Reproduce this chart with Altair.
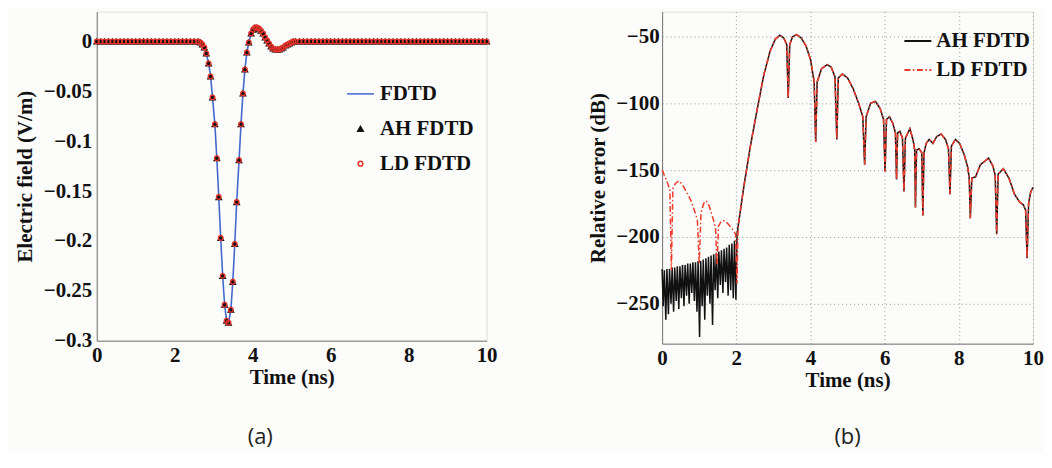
import altair as alt
import pandas as pd

FONT = "Liberation Serif"

# ---------------- Panel (a): electric field ----------------
a_time = [0.0, 0.1, 0.2, 0.3, 0.4, 0.5, 0.6, 0.7, 0.8, 0.9, 1.0, 1.1, 1.2, 1.3,
          1.4, 1.5, 1.6, 1.7, 1.8, 1.9, 2.0, 2.1, 2.2, 2.3, 2.4, 2.5,
          2.60, 2.66, 2.71, 2.76, 2.81, 2.87, 2.92, 2.97, 3.03, 3.08, 3.13, 3.18,
          3.23, 3.28, 3.33, 3.38, 3.44, 3.49, 3.54, 3.59, 3.65, 3.70, 3.75, 3.80,
          3.85, 3.90, 3.96, 4.01, 4.06, 4.11, 4.16, 4.21, 4.27, 4.32, 4.37, 4.42,
          4.47, 4.52, 4.58, 4.63, 4.68, 4.73, 4.78, 4.84, 4.89, 4.94, 4.99, 5.04,
          5.1, 5.2, 5.3, 5.4, 5.5, 5.6, 5.7, 5.8, 5.9, 6.0, 6.1, 6.2, 6.3, 6.4,
          6.5, 6.6, 6.7, 6.8, 6.9, 7.0, 7.1, 7.2, 7.3, 7.4, 7.5, 7.6, 7.7, 7.8,
          7.9, 8.0, 8.1, 8.2, 8.3, 8.4, 8.5, 8.6, 8.7, 8.8, 8.9, 9.0, 9.1, 9.2,
          9.3, 9.4, 9.5, 9.6, 9.7, 9.8, 9.9, 10.0]
a_field = [0.0, 0.0, 0.0, 0.0, 0.0, 0.0, 0.0, 0.0, 0.0, 0.0, 0.0, 0.0, 0.0, 0.0,
           0.0, 0.0, 0.0, 0.0, 0.0, 0.0, 0.0, 0.0, 0.0, 0.0, 0.0, 0.0,
           0.000, -0.001, -0.003, -0.006, -0.012, -0.022, -0.035, -0.056, -0.083,
           -0.117, -0.156, -0.197, -0.235, -0.264, -0.280, -0.282, -0.269, -0.241,
           -0.203, -0.161, -0.119, -0.083, -0.052, -0.028, -0.011, -0.001, 0.008,
           0.012, 0.014, 0.014, 0.013, 0.011, 0.008, 0.004, 0.001, -0.002, -0.005,
           -0.007, -0.008, -0.008, -0.008, -0.007, -0.006, -0.004, -0.003, -0.002,
           -0.001, 0.000,
           0.0, 0.0, 0.0, 0.0, 0.0, 0.0, 0.0, 0.0, 0.0, 0.0, 0.0, 0.0, 0.0, 0.0,
           0.0, 0.0, 0.0, 0.0, 0.0, 0.0, 0.0, 0.0, 0.0, 0.0, 0.0, 0.0, 0.0, 0.0,
           0.0, 0.0, 0.0, 0.0, 0.0, 0.0, 0.0, 0.0, 0.0, 0.0, 0.0, 0.0, 0.0, 0.0,
           0.0, 0.0, 0.0, 0.0, 0.0, 0.0, 0.0, 0.0]
a_series = ["FDTD", "AH FDTD", "LD FDTD"]
a_ticks_x = [0, 2, 4, 6, 8, 10]
a_ticks_y = [-0.3, -0.25, -0.2, -0.15, -0.1, -0.05, 0]

# ---------------- Panel (b): relative error ----------------
b_ah_pre_time = [0.00, 0.03, 0.06, 0.10, 0.13, 0.17, 0.20, 0.24, 0.27, 0.31, 0.34, 0.38,
                 0.41, 0.45, 0.48, 0.52, 0.55, 0.59, 0.62, 0.66, 0.69, 0.73, 0.76, 0.80,
                 0.83, 0.87, 0.90, 0.94, 0.97, 1.01, 1.04, 1.08, 1.11, 1.15, 1.18, 1.22,
                 1.25, 1.29, 1.32, 1.36, 1.39, 1.43, 1.46, 1.50, 1.53, 1.57, 1.60, 1.64,
                 1.67, 1.71, 1.74, 1.78, 1.81, 1.85, 1.88, 1.92, 1.95, 1.99, 2.02]
b_ah_pre_err = [-224, -252, -225, -262, -224, -258, -224, -250, -223, -256, -223, -248,
                -222, -254, -222, -246, -221, -252, -221, -244, -220, -250, -220, -242,
                -219, -248, -219, -256, -218, -275, -218, -252, -217, -262, -216, -244,
                -215, -250, -214, -266, -213, -240, -212, -246, -211, -236, -210, -242,
                -209, -234, -208, -244, -206, -240, -205, -246, -203, -247, -198]
b_ld_pre_time = [0.00, 0.08, 0.15, 0.21, 0.25, 0.29, 0.36, 0.45, 0.55, 0.67, 0.78, 0.88,
                 0.95, 1.00, 1.05, 1.12, 1.19, 1.27, 1.36, 1.44, 1.48, 1.52, 1.60, 1.70,
                 1.80, 1.92, 1.98, 2.02, 2.04]
b_ld_pre_err = [-150, -155, -160, -165, -225, -164, -160, -158, -161, -167, -173, -181,
                -187, -220, -182, -175, -173, -177, -185, -193, -221, -192, -188, -188,
                -191, -195, -198, -235, -200]
b_tail_time = [2.06, 2.20, 2.38, 2.56, 2.74, 2.91, 3.05, 3.17, 3.28, 3.36,
               3.40, 3.44, 3.52, 3.63, 3.75, 3.88, 4.00, 4.10, 4.14, 4.18,
               4.30, 4.45, 4.56, 4.66, 4.71, 4.75, 4.86, 5.00, 5.15, 5.30,
               5.41, 5.46, 5.50, 5.62, 5.75, 5.88, 5.97, 6.01, 6.05, 6.13,
               6.22, 6.29, 6.32, 6.35, 6.41, 6.48, 6.52, 6.56, 6.68, 6.77,
               6.81, 6.83, 6.86, 6.93, 7.00, 7.03, 7.06, 7.12, 7.20, 7.30,
               7.40, 7.52, 7.64, 7.72, 7.76, 7.80, 7.91, 8.02, 8.14, 8.24,
               8.28, 8.31, 8.35, 8.45, 8.58, 8.80, 8.92, 8.98, 9.02, 9.06,
               9.20, 9.35, 9.50, 9.64, 9.74, 9.80, 9.84, 9.88, 9.94, 10.0]
b_tail_err = [-190, -163, -132, -105, -79, -61, -52, -49, -51, -56,
              -96, -56, -50, -48.5, -51, -57, -67, -84, -129, -84,
              -74, -71, -73, -80, -127, -81, -78, -81, -89, -100,
              -110, -146, -110, -100, -98.5, -104, -112, -151, -112, -110,
              -115, -122, -157, -122, -121, -126, -166, -126, -119, -128,
              -135, -178, -135, -134, -137, -184, -137, -130, -127, -130,
              -125, -123, -127, -134, -168, -132, -127, -130, -138, -148,
              -156, -186, -156, -155, -146, -141, -147, -154, -198, -153,
              -149, -156, -168, -174, -176, -180, -216, -175, -166, -163]
b_series = ["AH FDTD", "LD FDTD"]
b_ticks_y = [-250, -200, -150, -100, -50]

captions = ["(a)", "(b)"]

# ---------------- tables ----------------
line_df = pd.DataFrame({"t": a_time, "E": a_field, "s": a_series[0]})
pts_df = pd.concat([
    pd.DataFrame({"t": a_time, "E": a_field, "s": a_series[1]}),
    pd.DataFrame({"t": a_time, "E": a_field, "s": a_series[2]}),
], ignore_index=True)

ah_df = pd.DataFrame({"t": b_ah_pre_time + b_tail_time,
                      "err": b_ah_pre_err + b_tail_err, "s": b_series[0]})
ld_df = pd.DataFrame({"t": b_ld_pre_time + b_tail_time,
                      "err": b_ld_pre_err + b_tail_err, "s": b_series[1]})

axis_common = dict(labelFont=FONT, labelFontSize=21, labelFontWeight="bold",
                   labelColor="#111", titleFont=FONT, titleFontSize=21,
                   titleFontWeight="bold", titleColor="#111", domainColor="#777",
                   domainWidth=1, ticks=False, labelFlush=False)

# ---------------- panel (a) ----------------
x_a = alt.X("t:Q", scale=alt.Scale(domain=[0, 10], nice=False),
            axis=alt.Axis(values=a_ticks_x, title="Time (ns)", grid=False,
                          labelPadding=4, titlePadding=1, **axis_common))
y_a = alt.Y("E:Q", scale=alt.Scale(domain=[-0.3, 0.03], nice=False, zero=False),
            axis=alt.Axis(values=a_ticks_y, format=".2~f", title="Electric field (V/m)",
                          grid=False, labelPadding=5, titlePadding=8, **axis_common))

leg_a = alt.Legend(title=None, orient="none", legendX=254, legendY=72, padding=0,
                   labelFont=FONT, labelFontSize=21, labelFontWeight="bold",
                   labelColor="#111", symbolStrokeWidth=1.5, rowPadding=13,
                   labelOffset=9, symbolOpacity=1)
stroke_a = alt.Scale(domain=a_series, range=["#4468cc", "#111111", "#e8342c"])
fill_a = alt.Scale(domain=a_series, range=["transparent", "#111111", "transparent"])
shape_a = alt.Scale(domain=a_series, range=["M-4.27,0H4.27", "triangle-up", "circle"])
size_a = alt.Scale(domain=a_series, range=[40, 22, 46])

line_a = alt.Chart(line_df).mark_line(strokeWidth=1.6).encode(
    x=x_a, y=y_a,
    stroke=alt.Stroke("s:N", scale=stroke_a, legend=leg_a),
)
pts_a = alt.Chart(pts_df).mark_point(strokeWidth=1.3, opacity=1).encode(
    x=x_a, y=y_a,
    stroke=alt.Stroke("s:N", scale=stroke_a, legend=leg_a),
    fill=alt.Fill("s:N", scale=fill_a, legend=leg_a),
    shape=alt.Shape("s:N", scale=shape_a, legend=leg_a),
    size=alt.Size("s:N", scale=size_a, legend=leg_a),
)
cap_a = alt.Chart(pd.DataFrame({"c": [captions[0]]})).mark_text(
    font="Open Sans", fontSize=22, color="#222", baseline="middle", align="center"
).encode(text="c:N", x=alt.value(164), y=alt.value(427))

panel_a = alt.layer(line_a, pts_a, cap_a).properties(width=391, height=330)

# ---------------- panel (b) ----------------
x_b = alt.X("t:Q", scale=alt.Scale(domain=[0, 10], nice=False),
            axis=alt.Axis(values=a_ticks_x, title="Time (ns)", grid=True,
                          gridDash=[1, 3], gridColor="#999", gridWidth=1,
                          labelPadding=4, titlePadding=1, **axis_common))
y_b = alt.Y("err:Q", scale=alt.Scale(domain=[-280, -31.3], nice=False, zero=False),
            axis=alt.Axis(values=b_ticks_y, format="d", title="Relative error (dB)",
                          grid=True, gridDash=[1, 3], gridColor="#999", gridWidth=1,
                          labelPadding=3, titlePadding=7, **axis_common))
leg_b = alt.Legend(title=None, orient="none", legendX=242, legendY=15, padding=0,
                   labelFont=FONT, labelFontSize=21, labelFontWeight="bold",
                   labelColor="#111", symbolType="stroke", symbolSize=729,
                   symbolStrokeWidth=2, rowPadding=4, labelOffset=4)
color_b = alt.Scale(domain=b_series, range=["#111111", "#ee3b2b"])
dash_b = alt.Scale(domain=b_series, range=[[1, 0], [6, 2.5, 1.5, 2.5]])

ah_line = alt.Chart(ah_df).mark_line(strokeWidth=1.5).encode(
    x=x_b, y=y_b,
    color=alt.Color("s:N", scale=color_b, legend=leg_b),
    strokeDash=alt.StrokeDash("s:N", scale=dash_b, legend=leg_b),
)
ld_line = alt.Chart(ld_df).mark_line(strokeWidth=1.5).encode(
    x=x_b, y=y_b,
    color=alt.Color("s:N", scale=color_b, legend=leg_b),
    strokeDash=alt.StrokeDash("s:N", scale=dash_b, legend=leg_b),
)
cap_b = alt.Chart(pd.DataFrame({"c": [captions[1]]})).mark_text(
    font="Open Sans", fontSize=22, color="#222", baseline="middle", align="center"
).encode(text="c:N", x=alt.value(186), y=alt.value(427))

panel_b = alt.layer(ah_line, ld_line, cap_b).properties(width=372, height=333)

chart = alt.hconcat(panel_a, panel_b, spacing=90).resolve_scale(
    x="independent", y="independent", color="independent", stroke="independent",
    fill="independent", shape="independent", size="independent", strokeDash="independent"
).configure_view(stroke=None).configure_axis(
    labelFont=FONT, labelFontSize=21, labelFontWeight="bold", labelColor="#111",
    titleFont=FONT, titleFontSize=21, titleFontWeight="bold",
).configure(
    background="#fcfcfa",
    padding={"left": 5, "top": 2, "right": 0, "bottom": 3},
)

chart.save("out.html", embed_options={"renderer": "svg", "actions": False})
